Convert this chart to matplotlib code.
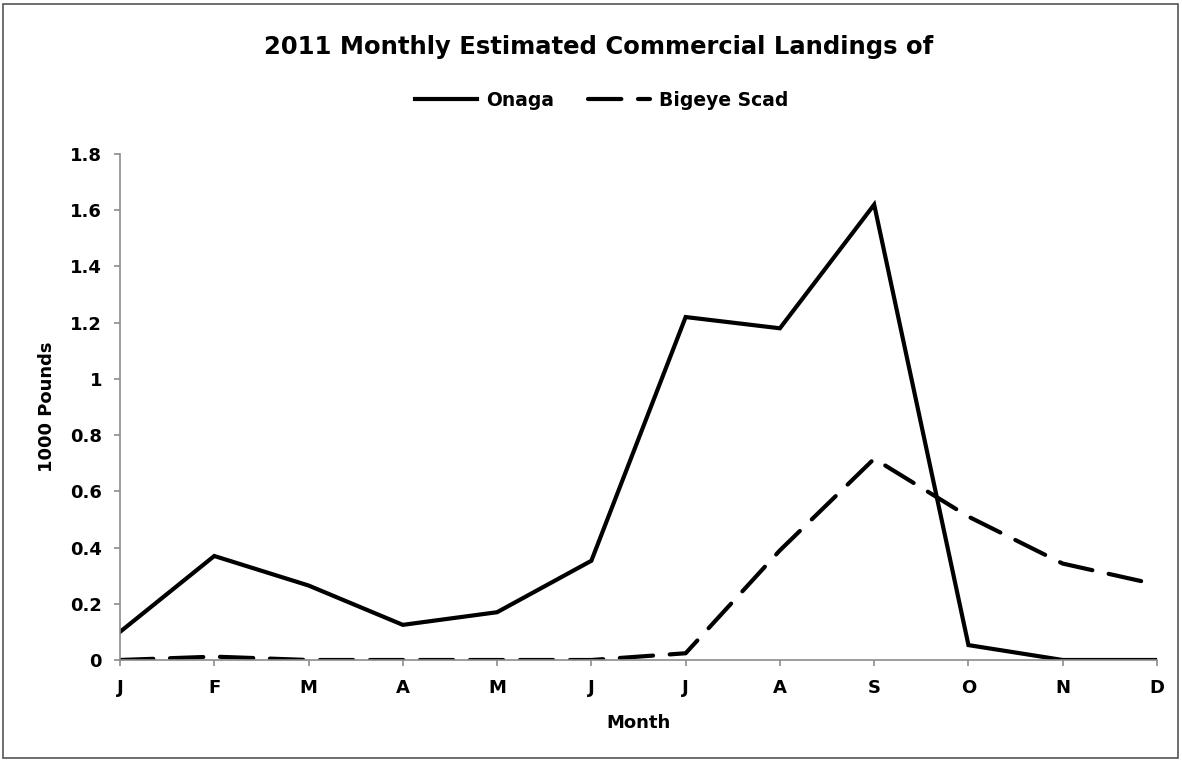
import numpy as np
import matplotlib
matplotlib.use("Agg")
import matplotlib.pyplot as plt
from matplotlib.patches import Rectangle

months = ["J", "F", "M", "A", "M", "J", "J", "A", "S", "O", "N", "D"]
onaga = [0.10, 0.37, 0.265, 0.125, 0.17, 0.353, 1.22, 1.18, 1.62, 0.053, 0.0, 0.0]
bigeye = [0.0, 0.012, 0.0, 0.0, 0.0, 0.0, 0.024, 0.39, 0.716, 0.51, 0.343, 0.268]
yticks = [0, 0.2, 0.4, 0.6, 0.8, 1, 1.2, 1.4, 1.6, 1.8]
ytick_labels = ["0", "0.2", "0.4", "0.6", "0.8", "1", "1.2", "1.4", "1.6", "1.8"]

plt.rcParams['font.family'] = ['DejaVu Sans']
fig = plt.figure(figsize=(11.82, 7.61), dpi=100)
ax = fig.add_axes([120/1182, 1-660/761, (1157-120)/1182, (660-154)/761])

x = np.arange(len(months))
ax.plot(x, onaga, color="black", linewidth=3, solid_joinstyle="miter", label="Onaga")
ax.plot(x, bigeye, color="black", linewidth=3, dashes=(8, 4), dash_capstyle="round", label="Bigeye Scad")

ax.set_xlim(0, 11)
ax.set_ylim(0, 1.8)
ax.set_xticks(x)
ax.set_xticklabels(months, fontsize=13, fontweight="bold")
ax.set_yticks(yticks)
ax.set_yticklabels(ytick_labels, fontsize=13, fontweight="bold")
for s in ["top", "right"]:
    ax.spines[s].set_visible(False)
for s in ["left", "bottom"]:
    ax.spines[s].set_color("#8c8c8c")
    ax.spines[s].set_linewidth(1.2)
ax.tick_params(axis="both", colors="#8c8c8c", labelcolor="black", length=4, width=1.2)
ax.tick_params(axis="x", pad=10)
ax.tick_params(axis="y", pad=9)
ax.set_xlabel("Month", fontsize=13, fontweight="bold", labelpad=12)
ax.set_ylabel("1000 Pounds", fontsize=13, fontweight="bold", labelpad=10)

fig.text(599/1182, 1-47/761, "2011 Monthly Estimated Commercial Landings of", ha="center", va="center",
         fontsize=17.5, fontweight="bold")
leg = fig.legend(loc="center", bbox_to_anchor=(602/1182, 1-100/761), ncol=2, frameon=False,
                 prop={"size": 13.5, "weight": "bold"}, handlelength=3.3, handletextpad=0.5,
                 columnspacing=1.8)

fig.patches.append(Rectangle((3/1182, 3/761), 1-7/1182, 1-7/761, transform=fig.transFigure,
                             fill=False, edgecolor="#555555", linewidth=1.2))

fig.savefig("out.png", dpi=100)
